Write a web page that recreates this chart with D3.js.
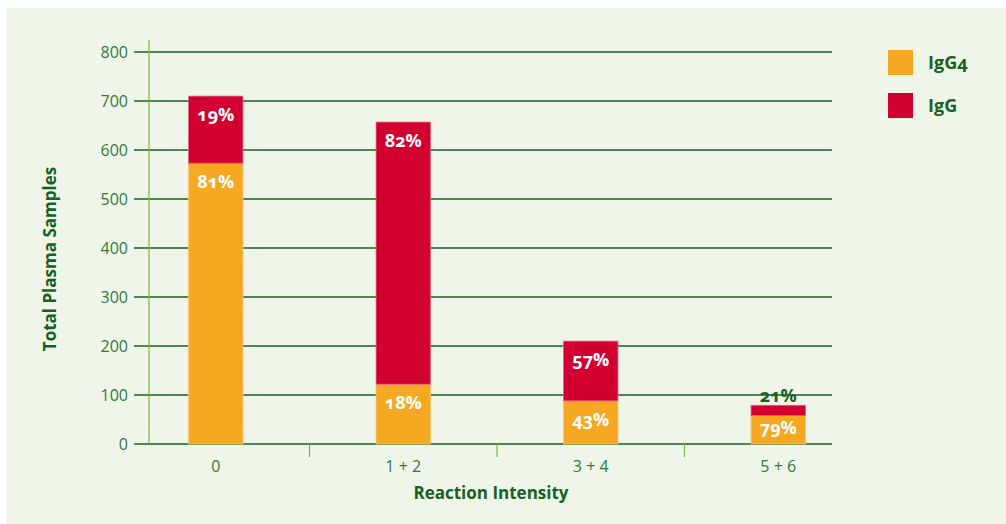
<!DOCTYPE html>
<html>
<head>
<meta charset="utf-8">
<script src="https://cdn.jsdelivr.net/npm/d3@7"></script>
<style>
  body { margin: 0; background: #fff; }
  svg { display: block; font-family: "Open Sans", sans-serif; }
</style>
</head>
<body>
<div id="fig"></div>
<script>
let categories = ['0', '1 + 2', '3 + 4', '5 + 6'];
let igg4 = [573, 122, 88, 58];
let igg = [137, 535, 122, 21];
let igg4Pct = ['81%', '18%', '43%', '79%'];
let iggPct = ['19%', '82%', '57%', '21%'];
let yTicks = [0, 100, 200, 300, 400, 500, 600, 700, 800];
let seriesNames = ['IgG4', 'IgG'];

let width = 1006;
let height = 524;
let colors = { IgG4: '#f6a823', IgG: '#d10031' };
let darkGreen = '#17611f';
let tickGreen = '#2f7a3c';
let lightGreen = '#76b843';

let svg = d3.select('#fig').append('svg')
    .attr('width', width)
    .attr('height', height);

svg.append('rect')
    .attr('x', 6).attr('y', 8)
    .attr('width', width - 6).attr('height', height - 8)
    .attr('fill', '#eff5e9');

let x = d3.scaleBand()
    .domain(categories)
    .range([122, 872])
    .padding(0);

let y = d3.scaleLinear()
    .domain([0, 800])
    .range([444, 52]);

let barW = x.bandwidth() * 0.29;

// gridlines
svg.append('g')
    .selectAll('line')
    .data(yTicks)
    .join('line')
    .attr('x1', 134).attr('x2', 832)
    .attr('y1', d => y(d)).attr('y2', d => y(d))
    .attr('stroke', darkGreen)
    .attr('stroke-width', 1.3);

// y axis vertical line
svg.append('line')
    .attr('x1', 149).attr('x2', 149)
    .attr('y1', 40).attr('y2', y(0))
    .attr('stroke', lightGreen)
    .attr('stroke-width', 1.2);

// y tick labels
svg.append('g')
    .selectAll('text')
    .data(yTicks)
    .join('text')
    .attr('x', 128)
    .attr('y', d => y(d) + 5.5)
    .attr('text-anchor', 'end')
    .attr('font-size', 16)
    .attr('fill', tickGreen)
    .text(d => d);

// x separator ticks
svg.append('g')
    .selectAll('line')
    .data(categories.slice(1))
    .join('line')
    .attr('x1', d => x(d)).attr('x2', d => x(d))
    .attr('y1', y(0)).attr('y2', y(0) + 13)
    .attr('stroke', lightGreen)
    .attr('stroke-width', 1.2);

// x labels
svg.append('g')
    .selectAll('text')
    .data(categories)
    .join('text')
    .attr('x', d => x(d) + x.bandwidth() / 2)
    .attr('y', y(0) + 28)
    .attr('text-anchor', 'middle')
    .attr('font-size', 16)
    .attr('fill', tickGreen)
    .text(d => d);

// stacked bars
let rows = categories.map((c, i) => ({ cat: c, IgG4: igg4[i], IgG: igg[i], p4: igg4Pct[i], pg: iggPct[i] }));
let stack = d3.stack().keys(seriesNames)(rows);

stack.forEach(layer => {
    let g = svg.append('g');
    g.selectAll('rect')
        .data(layer)
        .join('rect')
        .attr('x', d => x(d.data.cat) + (x.bandwidth() - barW) / 2)
        .attr('y', d => y(d[1]))
        .attr('width', barW)
        .attr('height', d => y(d[0]) - y(d[1]))
        .attr('fill', colors[layer.key])
        .attr('stroke', layer.key === 'IgG' ? '#e4607e' : '#f8c56a')
        .attr('stroke-width', 0.8);

    g.selectAll('text')
        .data(layer)
        .join('text')
        .attr('x', d => x(d.data.cat) + x.bandwidth() / 2)
        .attr('y', d => {
            let h = y(d[0]) - y(d[1]);
            if (h < 20) return y(d[1]) - 3;
            return y(d[1]) + Math.min(25, h * 0.66);
        })
        .attr('text-anchor', 'middle')
        .attr('font-size', 18)
        .attr('font-weight', 'bold')
        .attr('fill', d => (y(d[0]) - y(d[1]) < 20) ? darkGreen : '#fff')
        .style('font-variant-numeric', 'oldstyle-nums')
        .text(d => layer.key === 'IgG' ? d.data.pg : d.data.p4);
});

// axis titles
svg.append('text')
    .attr('transform', 'translate(56, 259) rotate(-90)')
    .attr('text-anchor', 'middle')
    .attr('font-size', 17)
    .attr('font-weight', 'bold')
    .attr('fill', darkGreen)
    .text('Total Plasma Samples');

svg.append('text')
    .attr('x', 491)
    .attr('y', 499)
    .attr('text-anchor', 'middle')
    .attr('font-size', 17)
    .attr('font-weight', 'bold')
    .attr('fill', darkGreen)
    .text('Reaction Intensity');

// legend
let legend = svg.append('g')
    .selectAll('g')
    .data(seriesNames)
    .join('g')
    .attr('transform', (d, i) => `translate(888, ${50 + i * 43})`);

legend.append('rect')
    .attr('width', 25).attr('height', 25)
    .attr('fill', d => colors[d]);

legend.append('text')
    .attr('x', 40).attr('y', 19)
    .attr('font-size', 18)
    .attr('font-weight', 'bold')
    .attr('fill', darkGreen)
    .style('font-variant-numeric', 'oldstyle-nums')
    .text(d => d);
</script>
</body>
</html>
